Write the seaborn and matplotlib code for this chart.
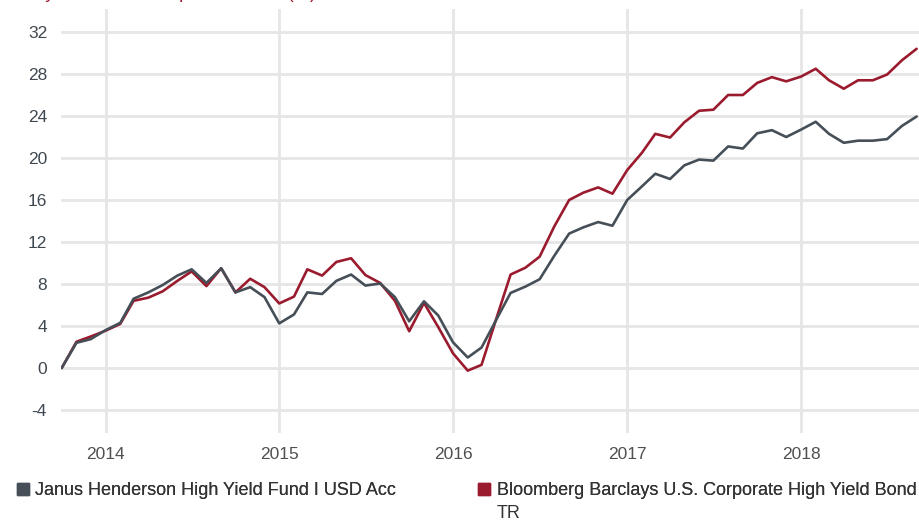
import numpy as np
import pandas as pd
import matplotlib
matplotlib.use("Agg")
import matplotlib.pyplot as plt
import seaborn as sns
from matplotlib.lines import Line2D

# ---------------- data ----------------
start_month = "2013-10-01"
janus = [0.0, 2.4, 2.75, 3.6, 4.3, 6.6, 7.2, 7.9, 8.8, 9.4,
         8.1, 9.5, 7.2, 7.7, 6.75, 4.25, 5.1, 7.2, 7.05, 8.3,
         8.9, 7.85, 8.05, 6.75, 4.45, 6.35, 5.0, 2.45, 1.0, 1.95,
         4.6, 7.15, 7.75, 8.45, 10.7, 12.8, 13.4, 13.9, 13.55, 16.0,
         17.3, 18.5, 18.0, 19.3, 19.85, 19.75, 21.1, 20.9, 22.35, 22.65,
         22.0, 22.7, 23.45, 22.3, 21.45, 21.65, 21.65, 21.8, 23.05, 23.95]
bloomberg = [0.0, 2.5, 3.0, 3.55, 4.2, 6.4, 6.7, 7.3, 8.3, 9.2,
             7.8, 9.5, 7.2, 8.5, 7.7, 6.15, 6.8, 9.4, 8.8, 10.1,
             10.45, 8.85, 8.1, 6.4, 3.5, 6.2, 3.9, 1.4, -0.25, 0.3,
             4.7, 8.9, 9.55, 10.6, 13.5, 16.0, 16.7, 17.2, 16.6, 18.85,
             20.5, 22.3, 21.95, 23.4, 24.5, 24.6, 26.0, 26.0, 27.15, 27.7,
             27.3, 27.75, 28.5, 27.4, 26.6, 27.4, 27.4, 27.95, 29.3, 30.4]
series_names = ["Janus Henderson High Yield Fund I USD Acc",
                "Bloomberg Barclays U.S. Corporate High Yield Bond"]
legend_wrap = "TR"
y_ticks = [-4, 0, 4, 8, 12, 16, 20, 24, 28, 32]
x_tick_years = [2014, 2015, 2016, 2017, 2018]
title = "5 year cumulative performance (%)"

colors = {series_names[0]: "#464f57", series_names[1]: "#9b1b2e"}

n = len(janus)
dates = pd.date_range(start_month, periods=n, freq="MS")
df = pd.DataFrame({
    "date": np.concatenate([dates, dates]),
    "value": janus + bloomberg,
    "series": [series_names[0]] * n + [series_names[1]] * n,
})

# ---------------- style ----------------
sns.set_theme(style="white")
plt.rcParams["font.family"] = ["Liberation Sans", "DejaVu Sans"]

W, H = 919, 522
fig = plt.figure(figsize=(W / 100, H / 100), dpi=100)
ax_left, ax_right, ax_top, ax_bottom = 61, 919, 9, 433
ax = fig.add_axes([ax_left / W, (H - ax_bottom) / H,
                   (ax_right - ax_left) / W, (ax_bottom - ax_top) / H])

sns.lineplot(data=df, x="date", y="value", hue="series",
             hue_order=[series_names[1], series_names[0]],
             palette=colors, linewidth=1.9, ax=ax, legend=False)

ax.set_xlim(dates[0] - pd.Timedelta(days=1.5), dates[-1] + pd.Timedelta(days=5))
ax.set_ylim(-6.19, 34.19)
ax.set_yticks(y_ticks)
ax.set_yticklabels([str(t) for t in y_ticks])
ax.set_xticks([pd.Timestamp(f"{y}-01-01") for y in x_tick_years])
ax.set_xticklabels([str(y) for y in x_tick_years])
ax.set_xlabel("")
ax.set_ylabel("")

ax.grid(True, color="#e6e6e6", linewidth=2)
ax.set_axisbelow(True)
for s in ax.spines.values():
    s.set_visible(False)
ax.tick_params(axis="both", length=0, labelsize=12.5)
ax.tick_params(axis="x", pad=10, labelcolor="#505050")
ax.tick_params(axis="y", pad=10, labelcolor="#3f4850")

# title (cropped at top of the image as in the reference)
fig.text(30 / W, 1 + 1.5 / H, title, color="#9b1b2e", fontsize=13.2,
         ha="left", va="baseline")

# legend
leg_fs = 13
fs_px = leg_fs * 100 / 72
for name, cx, tx in [(series_names[0], 22.5, 35), (series_names[1], 483.5, 497)]:
    hl = 0.7
    anchor_x = cx - hl * fs_px / 2
    pad = (tx - anchor_x - hl * fs_px) / fs_px
    h = Line2D([], [], marker="s", linestyle="", markersize=8.5,
               color=colors[name])
    leg = fig.legend(handles=[h], labels=[name], loc="upper left",
                     bbox_to_anchor=(anchor_x / W, 1 - 482 / H),
                     frameon=False, borderpad=0, borderaxespad=0,
                     handlelength=hl, handletextpad=pad, fontsize=leg_fs,
                     labelcolor="#333333")
    fig.add_artist(leg)

fig.text(497 / W, 1 - 514 / H, legend_wrap, color="#333333", fontsize=leg_fs,
         ha="left", va="center")

fig.savefig("out.png", dpi=100)
